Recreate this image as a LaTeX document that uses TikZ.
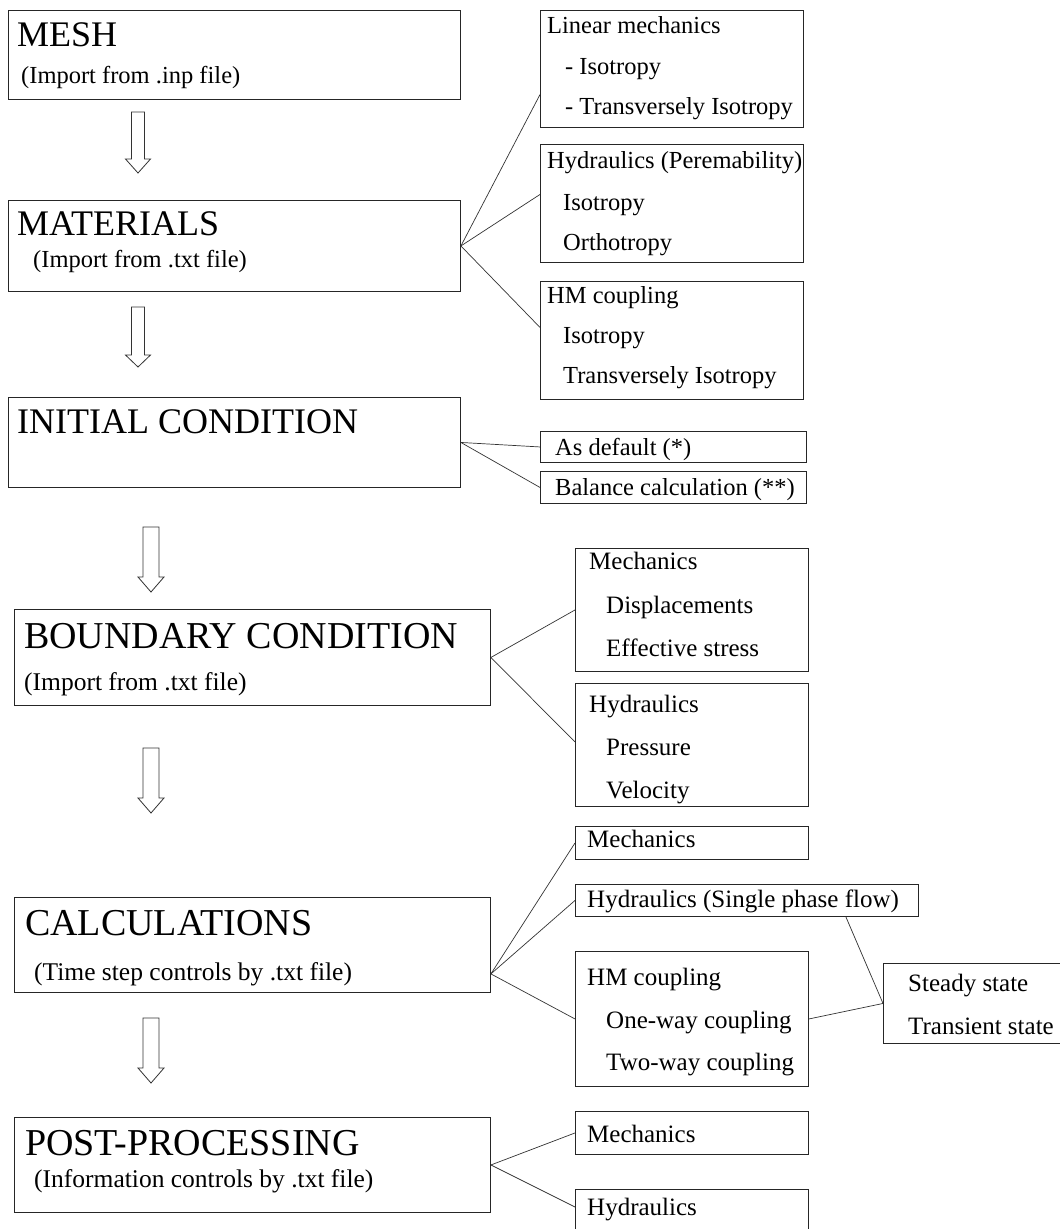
\documentclass[tikz,border=0pt]{standalone}
\usepackage{fontspec}
\setmainfont{Liberation Serif}
\begin{document}
\begin{tikzpicture}[x=1pt,y=1pt,
  box/.style={draw=black!85, line width=0.9pt, inner sep=0pt, anchor=north west},
  big/.style={anchor=base west, inner sep=0pt, font=\fontsize{36}{40}\selectfont},
  bigb/.style={anchor=base west, inner sep=0pt, font=\fontsize{38}{42}\selectfont},
  sub/.style={anchor=base west, inner sep=0pt, font=\fontsize{24.5}{28}\selectfont},
  subb/.style={anchor=base west, inner sep=0pt, font=\fontsize{25.5}{29}\selectfont},
  itm/.style={anchor=base west, inner sep=0pt, font=\fontsize{24.5}{28}\selectfont},
  itmb/.style={anchor=base west, inner sep=0pt, font=\fontsize{25}{28}\selectfont},
  link/.style={draw=black!80, line width=0.7pt},
  barrow/.style={draw=black!80, line width=0.8pt, fill=white, line join=miter}]
\useasboundingbox (0,0) rectangle (1060,-1229);
\fill[white] (0,0) rectangle (1060,-1229);
\newcommand{\blockarrow}[6]{% cx, top, shaft end, tip, half shaft, half head
  \draw[barrow] (#1-#5,-#2) -- (#1-#5,-#3) -- (#1-#6,-#3) -- (#1,-#4) -- (#1+#6,-#3) -- (#1+#5,-#3) -- (#1+#5,-#2) -- cycle;}

% ---------- main column ----------
\node[box, minimum width=452pt, minimum height=89pt] (mesh) at (8,-10) {};
\node[big] (meshT) at (17,-46) {MESH};
\node[sub] (meshS) at (21,-83) {(Import from .inp file)};

\node[box, minimum width=452pt, minimum height=91pt] (mat) at (8,-200) {};
\node[big] (matT) at (17,-235) {MATERIALS};
\node[sub] (matS) at (33,-267) {(Import from .txt file)};

\node[box, minimum width=452pt, minimum height=90pt] (init) at (8,-397) {};
\node[big] (initT) at (17,-433) {INITIAL CONDITION};

\node[box, minimum width=476pt, minimum height=96pt] (bc) at (14,-609) {};
\node[bigb] (bcT) at (24,-648) {BOUNDARY CONDITION};
\node[subb] (bcS) at (24,-690) {(Import from .txt file)};

\node[box, minimum width=476pt, minimum height=95pt] (calc) at (14,-897) {};
\node[bigb] (calcT) at (25,-935) {CALCULATIONS};
\node[subb] (calcS) at (34,-980) {(Time step controls by .txt file)};

\node[box, minimum width=476pt, minimum height=95pt] (post) at (14,-1117) {};
\node[bigb] (postT) at (25,-1155) {POST-PROCESSING};
\node[subb] (postS) at (34,-1187) {(Information controls by .txt file)};

% ---------- block arrows ----------
\blockarrow{138}{112}{159}{173}{6.5}{12.5}
\blockarrow{138}{307}{355}{367}{6.5}{12.5}
\blockarrow{151}{527}{577}{592}{8}{13}
\blockarrow{151}{748}{798}{813}{8}{13}
\blockarrow{151}{1018}{1068}{1083}{8}{13}

% ---------- materials ----------
\node[box, minimum width=263pt, minimum height=117pt] (lin) at (540,-10) {};
\node[itm] (lin1) at (547,-33) {Linear mechanics};
\node[itm] (lin2) at (565,-74) {- Isotropy};
\node[itm] (lin3) at (565,-114) {- Transversely Isotropy};

\node[box, minimum width=263pt, minimum height=118pt] (hyd) at (540,-144) {};
\node[itm] (hyd1) at (547,-168) {Hydraulics (Peremability)};
\node[itm] (hyd2) at (563,-210) {Isotropy};
\node[itm] (hyd3) at (563,-250) {Orthotropy};

\node[box, minimum width=263pt, minimum height=118pt] (hm) at (540,-281) {};
\node[itm] (hm1) at (547,-303) {HM coupling};
\node[itm] (hm2) at (563,-343) {Isotropy};
\node[itm] (hm3) at (563,-383) {Transversely Isotropy};

\draw[link] (mat.east) -- ([yshift=-25.6pt]lin.west);
\draw[link] (mat.east) -- ([yshift=9pt]hyd.west);
\draw[link] (mat.east) -- ([yshift=13pt]hm.west);

% ---------- initial condition ----------
\node[box, minimum width=266pt, minimum height=31pt] (def) at (540,-431) {};
\node[itm] (defT) at (555,-455) {As default (*)};
\node[box, minimum width=266pt, minimum height=32pt] (bal) at (540,-471) {};
\node[itm] (balT) at (555,-495) {Balance calculation (**)};
\draw[link] (init.east) -- (def.west);
\draw[link] (init.east) -- (bal.west);

% ---------- boundary condition ----------
\node[box, minimum width=233pt, minimum height=123pt] (bcm) at (575,-548) {};
\node[itmb] (bcm1) at (589,-569) {Mechanics};
\node[itmb] (bcm2) at (606,-613) {Displacements};
\node[itmb] (bcm3) at (606,-656) {Effective stress};

\node[box, minimum width=233pt, minimum height=123pt] (bch) at (575,-683) {};
\node[itmb] (bch1) at (589,-712) {Hydraulics};
\node[itmb] (bch2) at (606,-755) {Pressure};
\node[itmb] (bch3) at (606,-798) {Velocity};

\draw[link] (bc.east) -- (bcm.west);
\draw[link] (bc.east) -- ([yshift=3pt]bch.west);

% ---------- calculations ----------
\node[box, minimum width=233pt, minimum height=33pt] (cm) at (575,-826) {};
\node[itmb] (cmT) at (587,-847) {Mechanics};
\node[box, minimum width=343pt, minimum height=32pt] (chs) at (575,-884) {};
\node[itmb] (chsT) at (587,-907) {Hydraulics (Single phase flow)};
\node[box, minimum width=233pt, minimum height=135pt] (chm) at (575,-951) {};
\node[itmb] (chm1) at (587,-985) {HM coupling};
\node[itmb] (chm2) at (606,-1028) {One-way coupling};
\node[itmb] (chm3) at (606,-1070) {Two-way coupling};

\node[box, minimum width=181pt, minimum height=80pt] (st) at (883,-963) {};
\node[itmb] (st1) at (908,-991) {Steady state};
\node[itmb] (st2) at (908,-1034) {Transient state};

\coordinate (calcO) at ([yshift=19pt]calc.south east);
\draw[link] (calcO) -- (cm.west);
\draw[link] (calcO) -- (chs.west);
\draw[link] (calcO) -- (chm.west);
\draw[link] ([xshift=-73pt]chs.south east) -- (st.west);
\draw[link] (chm.east) -- (st.west);

% ---------- post-processing ----------
\node[box, minimum width=233pt, minimum height=43pt] (pm) at (575,-1111) {};
\node[itmb] (pmT) at (587,-1142) {Mechanics};
\node[box, minimum width=233pt, minimum height=51pt] (ph) at (575,-1189) {};
\node[itmb] (phT) at (587,-1215) {Hydraulics};
\draw[link] (post.east) -- (pm.west);
\draw[link] (post.east) -- ([yshift=-18pt]ph.north west);
\end{tikzpicture}
\end{document}
